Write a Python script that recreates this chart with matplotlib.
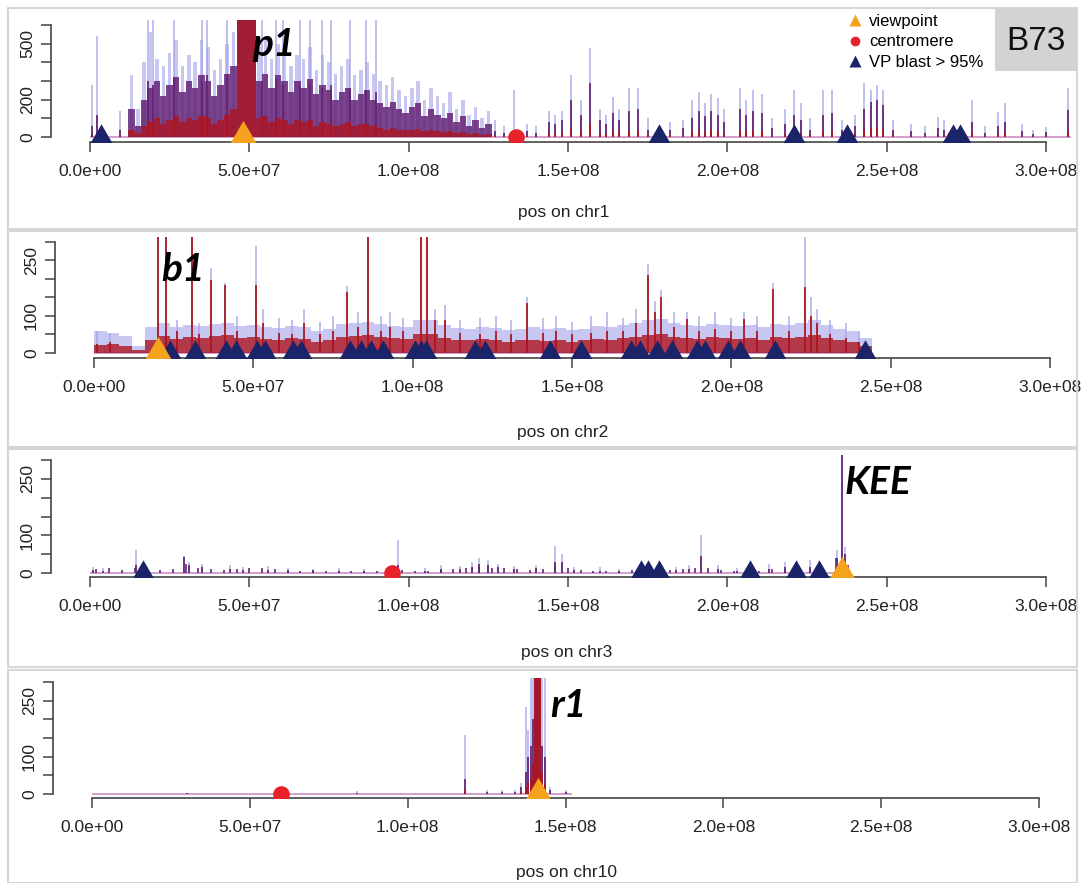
import matplotlib.pyplot as plt
import numpy as np
from matplotlib.lines import Line2D
from matplotlib.patches import Rectangle

W, H = 1083, 883
plt.rcParams['font.family'] = ['Liberation Sans', 'DejaVu Sans']

# ---------------- data (positions in Mb, signal in reads) ----------------
# chr1: dense region read in 2 Mb bins starting at 12 Mb
chr1_len = 308
chr1_bin_start, chr1_bin_w = 12, 2
chr1_lav_bg = [330, 150, 400, 560, 420, 380, 450, 520, 380, 440,
               400, 520, 480, 360, 420, 500, 560, 650, 650, 650,
               480, 520, 420, 500, 460, 380, 440, 420, 480, 360,
               440, 400, 340, 380, 420, 330, 360, 400, 340, 300,
               280, 320, 250, 220, 260, 300, 200, 260, 220, 180,
               240, 150, 200, 120, 160, 100, 140]
chr1_pur_bg = [150, 60, 200, 260, 300, 220, 280, 320, 240, 300,
               260, 330, 300, 220, 280, 340, 380, 650, 650, 650,
               300, 340, 260, 330, 300, 240, 300, 260, 310, 230,
               280, 250, 200, 240, 260, 200, 230, 250, 200, 180,
               160, 190, 150, 130, 160, 180, 110, 150, 120, 100,
               130, 80, 110, 60, 90, 50, 70]
chr1_red_bg = [40, 20, 60, 80, 100, 70, 90, 110, 80, 100,
               90, 110, 100, 70, 90, 120, 150, 650, 650, 650,
               100, 110, 80, 100, 90, 70, 90, 80, 90, 60,
               80, 70, 60, 70, 80, 60, 70, 70, 60, 50,
               40, 50, 40, 35, 40, 45, 30, 40, 30, 25,
               30, 20, 25, 15, 20, 10, 15]
chr1_peak_mb = [0.5, 2.3, 9.5, 18.2, 19.8, 26.3, 35.0, 36.6, 43.1, 54.0, 58.3, 60.5, 65.9, 69.1,
                72.9, 75.6, 81.6, 86.5, 89.7, 127, 130, 133.2, 137, 140, 144, 146, 148, 151, 154,
                157, 160, 162, 164, 166, 169, 172, 175, 182, 186, 189, 191, 193, 195, 197, 199,
                204, 206, 208, 211, 214, 218, 221, 223, 226, 230, 233, 236, 240, 243, 245, 247,
                249, 252, 257.7, 262, 266, 268, 276.7, 281, 285, 287, 292.5, 296, 300, 307]
chr1_peak_lav = [280, 540, 140, 650, 650, 650, 650, 650, 650, 650, 650, 650, 650, 650,
                 650, 650, 650, 650, 650, 90, 60, 250, 70, 60, 140, 120, 140, 330, 200,
                 475, 150, 120, 215, 150, 260, 260, 100, 80, 90, 200, 240, 180, 230, 210, 150,
                 260, 200, 250, 230, 100, 150, 250, 180, 100, 250, 250, 90, 120, 290, 250, 280,
                 250, 90, 70, 60, 107, 90, 200, 60, 135, 180, 70, 40, 55, 260]
chr1_peak_pur = [60, 120, 40, 300, 280, 320, 300, 330, 340, 300, 310, 280, 300, 290,
                 260, 280, 260, 250, 240, 30, 20, 40, 30, 20, 80, 70, 90, 200, 120,
                 290, 90, 70, 130, 90, 140, 150, 40, 40, 50, 100, 140, 110, 140, 120, 80,
                 150, 120, 140, 130, 50, 70, 120, 90, 40, 120, 130, 40, 60, 150, 190, 200,
                 170, 40, 30, 20, 50, 40, 80, 20, 60, 80, 30, 15, 25, 145]
chr1_peak_red = [10, 20, 10, 90, 80, 100, 90, 110, 120, 100, 100, 90, 90, 90,
                 80, 80, 80, 70, 70, 5, 5, 10, 5, 5, 20, 15, 20, 50, 30,
                 70, 20, 15, 30, 20, 30, 35, 10, 10, 10, 25, 35, 25, 35, 30, 20,
                 35, 30, 35, 30, 10, 15, 30, 20, 10, 30, 30, 10, 15, 35, 50, 55,
                 45, 10, 5, 5, 10, 10, 20, 5, 15, 20, 5, 3, 5, 40]
chr1_vp = [48.0]
chr1_cen = [133.8]
chr1_blast = [3.6, 178.4, 220.8, 237.6, 270.7, 272.9]

# chr2: background read in 4 Mb bins from 0
chr2_len = 244
chr2_bin_start, chr2_bin_w = 0, 4
chr2_lav_bg = [60, 55, 45, 20, 70, 80, 70, 75, 72, 78, 80, 72, 76, 70, 68, 74, 70, 60, 66, 78,
               80, 85, 78, 72, 70, 88, 90, 75, 68, 66, 70, 68, 62, 66, 70, 64, 68, 62, 66, 72,
               70, 76, 80, 88, 92, 82, 76, 72, 78, 76, 72, 76, 70, 78, 76, 82, 88, 76, 66, 60, 40]
chr2_red_bg = [22, 25, 18, 8, 35, 45, 38, 42, 40, 45, 48, 40, 42, 38, 36, 40, 38, 30, 34, 42,
               45, 48, 44, 40, 38, 50, 52, 40, 36, 34, 38, 35, 30, 34, 36, 32, 35, 30, 34, 38,
               36, 40, 42, 48, 52, 44, 40, 38, 42, 40, 38, 40, 36, 42, 40, 44, 48, 40, 34, 30, 20]
chr2_peak_mb = [1, 5, 20.0, 22.7, 26, 30.8, 33, 36.8, 41, 45, 50.8, 53, 58, 62, 66, 71, 75, 79.5,
                83, 86, 90, 93, 97, 102.7, 104.5, 107, 110, 115, 121, 126, 131, 136, 141, 145,
                150, 156, 161, 166, 170, 174, 176, 178, 182, 186, 190, 195, 200, 204, 208, 213,
                218, 223, 225, 227, 231, 236, 240]
chr2_peak_lav = [60, 55, 330, 330, 90, 330, 80, 230, 190, 100, 290, 120, 95, 90, 120, 85, 100, 180,
                 110, 330, 100, 110, 95, 330, 330, 120, 130, 90, 95, 100, 90, 150, 95, 100,
                 85, 100, 110, 95, 120, 240, 140, 170, 110, 110, 100, 110, 95, 110, 100, 190,
                 100, 330, 150, 120, 90, 80, 60]
chr2_peak_red = [25, 30, 330, 330, 60, 330, 50, 197, 183, 60, 183, 80, 55, 50, 80, 50, 60, 165,
                 70, 330, 60, 70, 60, 330, 330, 90, 90, 55, 50, 60, 50, 135, 55, 60,
                 50, 55, 60, 60, 80, 212, 110, 150, 70, 92, 60, 65, 60, 92, 60, 172,
                 60, 178, 100, 80, 50, 40, 30]
chr2_vp = [20.0]
chr2_cen = [88.6]
chr2_blast = [23.7, 31.6, 41.5, 44.7, 51.0, 53.6, 62.4, 65.0, 80.2, 83.8, 87.0, 90.6, 100.6,
              102.7, 104.3, 119.5, 122.6, 143.0, 152.7, 168.5, 171.2, 176.6, 181.5, 189.1,
              191.8, 198.9, 202.7, 213.6, 241.8]

# chr3: low background read in 4 Mb bins from 0
chr3_len = 238
chr3_bin_start, chr3_bin_w = 0, 4
chr3_pur_bg = [10, 12, 8, 14, 10, 8, 10, 25, 14, 10, 8, 10, 12, 14, 10, 8, 6, 8, 6, 5,
               6, 4, 6, 5, 8, 6, 5, 8, 10, 12, 16, 14, 12, 10, 8, 10, 16, 12, 8, 6,
               5, 6, 8, 0, 0, 8, 10, 12, 14, 8, 6, 8, 6, 10, 8, 6, 8, 6, 40, 20]
chr3_peak_mb = [1, 4, 14.5, 18, 29.5, 31, 35, 44, 48, 56, 62, 70, 78, 86, 96.7, 105, 110, 116,
                120, 122, 125, 128, 133, 140, 146, 148, 152, 160, 166, 184, 188, 191.6, 197,
                203, 213, 218, 226, 234.5, 235.9, 237]
chr3_peak_lav = [15, 12, 60, 15, 45, 30, 25, 20, 15, 18, 12, 10, 12, 10, 87, 12, 20, 18,
                 30, 40, 35, 25, 18, 20, 72, 50, 15, 15, 10, 15, 20, 100, 20,
                 12, 25, 30, 35, 60, 330, 70]
chr3_peak_pur = [8, 6, 20, 8, 43, 20, 15, 10, 8, 8, 6, 5, 6, 4, 20, 6, 10, 10,
                 15, 25, 20, 15, 10, 12, 30, 30, 8, 5, 5, 8, 10, 45, 10,
                 6, 10, 15, 15, 40, 330, 50]
chr3_vp = [236.0]
chr3_cen = [94.9]
chr3_blast = [16.6, 173.0, 175.0, 178.6, 207.0, 221.7, 228.7]

# chr10
chr10_len = 152
chr10_peak_mb = [30, 84, 118.1, 125, 130, 134, 136, 137.5, 138.1, 139.0, 139.6, 140.3, 140.8,
                 141.4, 142.0, 142.5, 143.6, 145, 150]
chr10_peak_lav = [4, 8, 159, 10, 12, 10, 30, 234, 172, 330, 330, 330, 330, 330, 330, 330, 330, 20, 12]
chr10_peak_pur = [2, 4, 40, 5, 6, 5, 20, 60, 100, 128, 200, 330, 330, 330, 330, 128, 100, 10, 5]
chr10_peak_red = [0, 0, 10, 0, 0, 0, 5, 20, 30, 40, 80, 330, 330, 330, 330, 60, 30, 0, 0]
chr10_vp = [141.3]
chr10_cen = [60.0]
chr10_blast = []

x_ticks_mb = [0, 50, 100, 150, 200, 250, 300]

LAV = '#a2a2e8'
PUR = '#642477'
RED = '#ad1420'
NAVY = '#1b2468'
ORANGE = '#f5a21c'
CEN_RED = '#e8222b'
BASE = '#c890c8'
FS = 12.5

# R style triangle (pch 17): drawn around its circumcentre
TRI = [(0, 1), (-0.866, -0.5), (0.866, -0.5)]


def place_axes(fig, x0px, x3px, yaxis_px, xaxis_px, y0px, ytop_px, ytop_val, top_px):
    """Put an axes on the figure so that data coords land on the given pixels."""
    right_px = W
    ppx = (x3px - x0px) / 300.0
    ppy = (y0px - ytop_px) / ytop_val
    ax = fig.add_axes([yaxis_px / W, 1 - xaxis_px / H,
                       (right_px - yaxis_px) / W, (xaxis_px - top_px) / H])
    ax.set_xlim((yaxis_px - x0px) / ppx, (right_px - x0px) / ppx)
    ax.set_ylim(-(xaxis_px - y0px) / ppy, (y0px - top_px) / ppy)
    return ax


def draw_bg(ax, start, bw, values, color, alpha, z, mode='fill'):
    if values is None:
        return
    centers = start + bw * np.arange(len(values)) + bw / 2
    if mode == 'thin':
        ax.vlines(centers, 0, values, color=color, lw=1.4, alpha=alpha, zorder=z)
    elif mode == 'bars':
        ax.bar(centers, values, width=bw * 0.55, color=color, alpha=alpha, lw=0, zorder=z)
    else:
        edges = start + bw * np.arange(len(values) + 1)
        ax.stairs(values, edges, fill=True, color=color, alpha=alpha, lw=0, zorder=z)


def draw_chrom(ax, ylen, yticks, ylabels, chr_len, bins, peaks, vp, cen, blast,
               lav_mode='fill', mode='fill'):
    ax.hlines(0, 0, chr_len, color=BASE, lw=1.2, zorder=1)
    start, bw, lav_bg, pur_bg, red_bg = bins
    pos, lav, pur, red = peaks
    draw_bg(ax, start, bw, lav_bg, LAV, 0.6, 2, lav_mode)
    if lav is not None:
        ax.vlines(pos, 0, lav, color=LAV, lw=1.2, alpha=0.8, zorder=2)
    draw_bg(ax, start, bw, pur_bg, PUR, 0.85, 3, mode)
    if pur is not None:
        ax.vlines(pos, 0, pur, color=PUR, lw=1.4, alpha=0.9, zorder=3)
    draw_bg(ax, start, bw, red_bg, RED, 0.8, 4, mode)
    if red is not None:
        ax.vlines(pos, 0, red, color=RED, lw=1.4, alpha=0.9, zorder=4)

    ax.plot(cen, [0] * len(cen), 'o', color=CEN_RED, ms=12, mec='none', zorder=5)
    ax.plot(blast, [0] * len(blast), marker=TRI, ls='none', color=NAVY, ms=19, mec='none', zorder=6)
    ax.plot(vp, [0] * len(vp), marker=TRI, ls='none', color=ORANGE, ms=24, mec='none', zorder=7)

    for s in ['top', 'right']:
        ax.spines[s].set_visible(False)
    for s in ['left', 'bottom']:
        ax.spines[s].set_color('#444444')
        ax.spines[s].set_linewidth(1.2)
    ax.spines['bottom'].set_bounds(0, 300)
    ax.spines['left'].set_bounds(0, ylen)
    ax.set_xticks(x_ticks_mb)
    ax.set_xticklabels([f'{v * 1e6:.1e}' for v in x_ticks_mb], fontsize=FS, color='#222222')
    ax.set_yticks(yticks)
    ax.set_yticklabels(ylabels, fontsize=FS, rotation=90, va='center', color='#222222')
    ax.tick_params(axis='x', length=7.5, width=1.1, color='#444444', pad=8)
    ax.tick_params(axis='y', length=7.5, width=1.1, color='#444444', pad=4)
    ax.patch.set_visible(False)


fig = plt.figure(figsize=(W / 100, H / 100), dpi=100)

# panel frames
for top, bot in [(8, 229), (231, 447), (449, 667), (670, 883)]:
    fig.add_artist(Rectangle((8 / W, 1 - bot / H), (1077 - 8) / W, (bot - top) / H,
                             transform=fig.transFigure, fill=False,
                             edgecolor='#d6d6d6', lw=1.5))

ticks600 = [0, 100, 200, 300, 400, 500, 600]
labels600 = ['0', '', '200', '', '', '500', '']
ticks300 = [0, 50, 100, 150, 200, 250, 300]
labels300 = ['0', '', '100', '', '', '250', '']

ax1 = place_axes(fig, 90, 1046, 51, 142, 137, 25, 600, 20)
draw_chrom(ax1, 600, ticks600, labels600, chr1_len,
           (chr1_bin_start, chr1_bin_w, chr1_lav_bg, chr1_pur_bg, chr1_red_bg),
           (chr1_peak_mb, chr1_peak_lav, chr1_peak_pur, chr1_peak_red),
           chr1_vp, chr1_cen, chr1_blast, lav_mode='bars')

ax2 = place_axes(fig, 94, 1050, 55, 358, 353, 242, 300, 237)
draw_chrom(ax2, 300, ticks300, labels300, chr2_len,
           (chr2_bin_start, chr2_bin_w, chr2_lav_bg, None, chr2_red_bg),
           (chr2_peak_mb, chr2_peak_lav, None, chr2_peak_red),
           chr2_vp, chr2_cen, chr2_blast)

ax3 = place_axes(fig, 90, 1046, 51, 577, 573, 460, 300, 455)
draw_chrom(ax3, 300, ticks300, labels300, chr3_len,
           (chr3_bin_start, chr3_bin_w, None, chr3_pur_bg, None),
           (chr3_peak_mb, chr3_peak_lav, chr3_peak_pur, None),
           chr3_vp, chr3_cen, chr3_blast, mode='thin')

ax4 = place_axes(fig, 92, 1039, 53, 798, 794, 682, 300, 678)
draw_chrom(ax4, 300, ticks300, labels300, chr10_len,
           (0, 1, None, None, None),
           (chr10_peak_mb, chr10_peak_lav, chr10_peak_pur, chr10_peak_red),
           chr10_vp, chr10_cen, chr10_blast)

# x axis titles
for txt, (px, py) in [('pos on chr1', (564, 212)), ('pos on chr2', (563, 432)),
                      ('pos on chr3', (567, 652)), ('pos on chr10', (567, 873))]:
    fig.text(px / W, 1 - py / H, txt, ha='center', va='center', fontsize=FS, color='#222222')

# gene names
gene_font = dict(family=['Lato', 'DejaVu Sans'], weight='bold', style='italic', fontsize=28)
for txt, (px, py) in [('p1', (252, 56)), ('b1', (161, 281)), ('KEE', (845, 494)), ('r1', (550, 717))]:
    fig.text(px / W, 1 - py / H, txt, ha='left', va='baseline', **gene_font)

# sample tag
fig.add_artist(Rectangle((995 / W, 1 - 71 / H), (1077 - 995) / W, (71 - 8) / H,
                         transform=fig.transFigure, color='#d3d3d3', lw=0))
fig.text(1036 / W, 1 - 41 / H, 'B73', ha='center', va='center', fontsize=24, color='#111111')

# legend
handles = [Line2D([], [], marker='^', ls='none', color=ORANGE, ms=9, mec='none'),
           Line2D([], [], marker='o', ls='none', color=CEN_RED, ms=7, mec='none'),
           Line2D([], [], marker='^', ls='none', color=NAVY, ms=9, mec='none')]
fig.legend(handles, ['viewpoint', 'centromere', 'VP blast > 95%'], loc='upper left',
           bbox_to_anchor=(845 / W, 1 - 14 / H), frameon=False, fontsize=12,
           handletextpad=0.25, labelspacing=0.32, handlelength=1.2, borderaxespad=0,
           borderpad=0)

fig.savefig('out.png', dpi=100)
